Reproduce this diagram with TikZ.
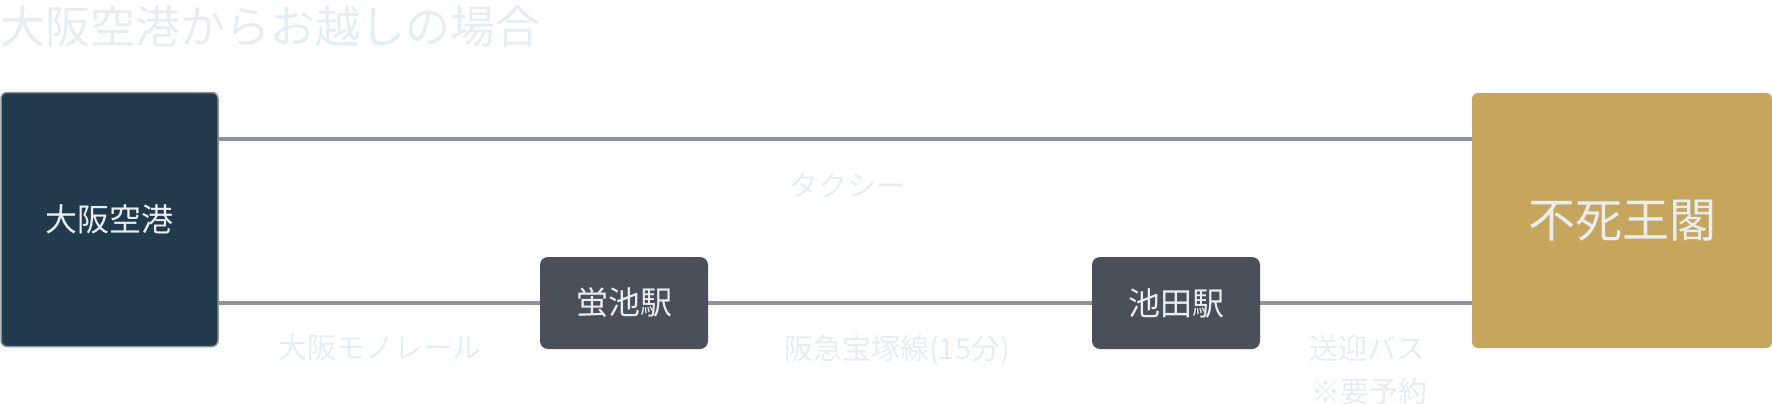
\documentclass[tikz,border=0pt]{standalone}
\usepackage{fontspec}
\setmainfont{Noto Sans CJK JP}
\usetikzlibrary{positioning}
\definecolor{airnavy}{HTML}{213A4C}
\definecolor{stagray}{HTML}{4A4F59}
\definecolor{hotelgold}{HTML}{C6A55C}
\definecolor{routegray}{HTML}{8A949C}
\definecolor{palelabel}{HTML}{E8EDF2}

\begin{document}
\begin{tikzpicture}[x=1pt,y=-1pt,
  route/.style={draw=routegray, line width=4pt},
  stabox/.style={fill=stagray, rounded corners=8pt, minimum width=168pt, minimum height=92pt, text=palelabel, font=\fontsize{32}{36}\selectfont},
  lbl/.style={text=palelabel, inner sep=0pt, font=\fontsize{29}{33}\selectfont}]
\useasboundingbox (0,0) rectangle (1772,404);

\node[anchor=west, inner sep=0pt, text=palelabel, font=\fontsize{45}{49}\selectfont] (title) at (0,26) {大阪空港からお越しの場合};

% end points
\node[fill=airnavy, draw=routegray, line width=1.5pt, rounded corners=6pt, minimum width=217pt, minimum height=254pt, text=palelabel, font=\fontsize{32}{36}\selectfont] (airport) at (109.5,219.5) {大阪空港};
\node[fill=hotelgold, rounded corners=6pt, minimum width=300pt, minimum height=255pt, text=palelabel, font=\fontsize{47}{52}\selectfont] (hotel) at (1622,220.5) {不死王閣};

% stations
\node[stabox] (hotarugaike) at (624,303) {蛍池駅};
\node[stabox] (ikeda) at (1176,303) {池田駅};

% routes
\coordinate (taxistart) at ([yshift=-47pt]airport.north east);
\draw[route] (taxistart) -- (taxistart -| hotel.west);
\draw[route] (airport.east |- hotarugaike) -- (hotarugaike);
\draw[route] (hotarugaike) -- (ikeda);
\draw[route] (ikeda) -- (hotel.west |- ikeda);

\node[lbl] (taxi) at (847,185) {タクシー};
\node[lbl] (monorail) at (380,348) {大阪モノレール};
\node[lbl] (hankyu) at (897,350) {阪急宝塚線(15分)};
\node[lbl] (bus) at (1367,348) {送迎バス};
\node[lbl] (booking) at (1369,391) {※要予約};
\end{tikzpicture}
\end{document}
